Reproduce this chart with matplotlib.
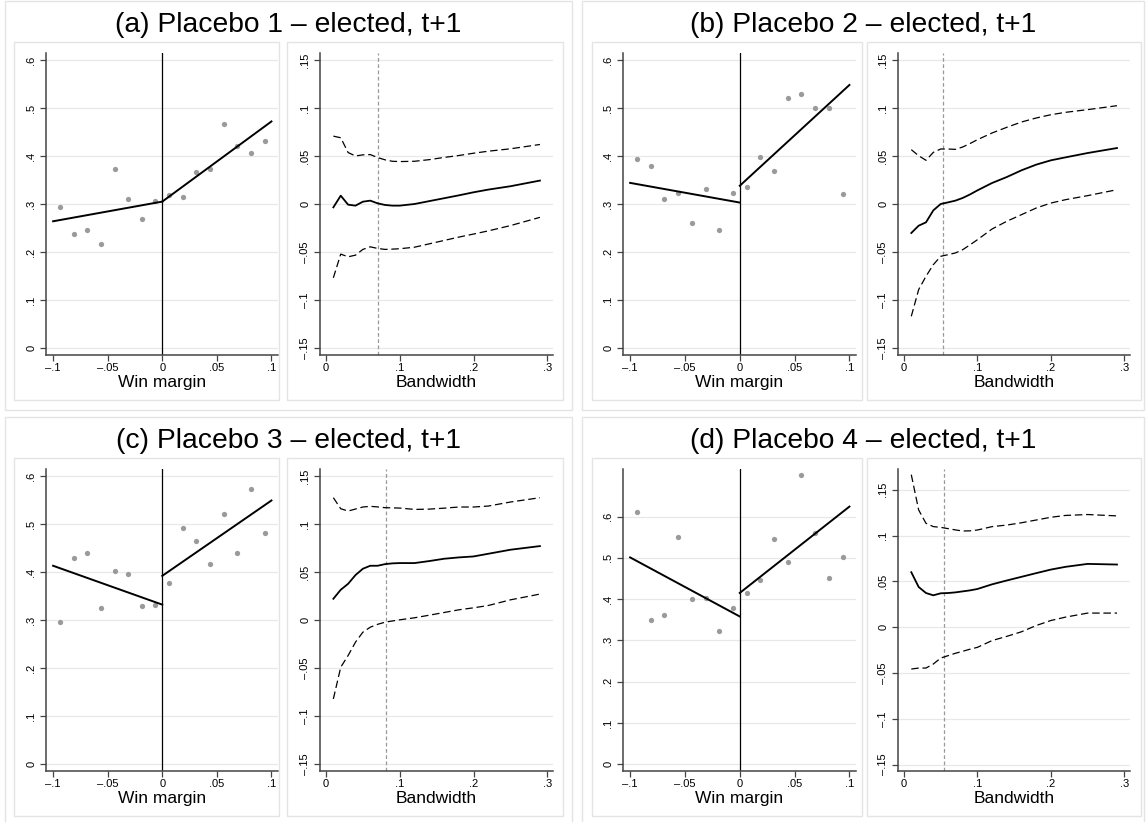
import matplotlib
matplotlib.use('Agg')
import matplotlib.pyplot as plt
from matplotlib.patches import Rectangle

plt.rcParams['font.family'] = ['Liberation Sans', 'DejaVu Sans']

# bin centres of the win margin (bins of width .0125)
bin_x = [-0.09375, -0.08125, -0.06875, -0.05625, -0.04375, -0.03125, -0.01875, -0.00625,
         0.00625, 0.01875, 0.03125, 0.04375, 0.05625, 0.06875, 0.08125, 0.09375]

# binned means of the outcome, one list per placebo
bins_a = [0.294, 0.237, 0.246, 0.217, 0.372, 0.310, 0.269, 0.306,
          0.319, 0.315, 0.366, 0.372, 0.467, 0.420, 0.406, 0.431]
bins_b = [0.393, 0.379, 0.310, 0.322, 0.260, 0.331, 0.245, 0.322,
          0.336, 0.397, 0.368, 0.521, 0.529, 0.500, 0.500, 0.321]
bins_c = [0.296, 0.429, 0.439, 0.326, 0.402, 0.396, 0.330, 0.332,
          0.378, 0.491, 0.465, 0.416, 0.521, 0.439, 0.572, 0.482]
bins_d = [0.611, 0.350, 0.361, 0.550, 0.400, 0.403, 0.322, 0.378,
          0.414, 0.447, 0.545, 0.491, 0.700, 0.560, 0.450, 0.501]

# linear fits either side of the cutoff: value at -.1 / 0 and at 0 / .1
fit_x_left = [-0.1, 0.0]
fit_x_right = [0.0, 0.1]
fit_a = ([0.264, 0.305], [0.305, 0.472])
fit_b = ([0.344, 0.303], [0.338, 0.548])
fit_c = ([0.413, 0.332], [0.392, 0.549])
fit_d = ([0.501, 0.358], [0.415, 0.624])

# RD estimates and 95% CI by bandwidth
bw = [0.01, 0.02, 0.03, 0.04, 0.05, 0.06, 0.07, 0.08, 0.09, 0.10,
      0.12, 0.14, 0.16, 0.18, 0.20, 0.22, 0.25, 0.29]

est_a = [-0.0035, 0.0087, -0.0007, -0.0017, 0.0024, 0.0035, 0.0007, -0.0010, -0.0017, -0.0017,
         0.0000, 0.0030, 0.0060, 0.0090, 0.0122, 0.0150, 0.0185, 0.0244]
hi_a = [0.0707, 0.0690, 0.0536, 0.0500, 0.0512, 0.0515, 0.0484, 0.0460, 0.0445, 0.0442,
        0.0445, 0.0462, 0.0485, 0.0505, 0.0529, 0.0550, 0.0575, 0.0620]
lo_a = [-0.0769, -0.0522, -0.0550, -0.0533, -0.0473, -0.0446, -0.0463, -0.0473, -0.0470, -0.0466,
        -0.0450, -0.0415, -0.0380, -0.0345, -0.0313, -0.0280, -0.0225, -0.0139]

est_b = [-0.0302, -0.0226, -0.0191, -0.0066, 0.0000, 0.0017, 0.0035, 0.0063, 0.0100, 0.0142,
         0.0219, 0.0281, 0.0351, 0.0410, 0.0455, 0.0486, 0.0531, 0.0583]
hi_b = [0.0566, 0.0503, 0.0455, 0.0538, 0.0573, 0.0573, 0.0569, 0.0594, 0.0630, 0.0670,
        0.0740, 0.0799, 0.0854, 0.0896, 0.0930, 0.0955, 0.0983, 0.1024]
lo_b = [-0.1170, -0.0892, -0.0753, -0.0632, -0.0545, -0.0528, -0.0510, -0.0476, -0.0425, -0.0372,
        -0.0260, -0.0180, -0.0111, -0.0042, 0.0010, 0.0045, 0.0087, 0.0149]

est_c = [0.0221, 0.0315, 0.0377, 0.0468, 0.0534, 0.0565, 0.0565, 0.0582, 0.0590, 0.0593,
         0.0593, 0.0614, 0.0638, 0.0652, 0.0662, 0.0690, 0.0732, 0.0770]
hi_c = [0.1274, 0.1159, 0.1135, 0.1156, 0.1177, 0.1184, 0.1178, 0.1170, 0.1168, 0.1166,
        0.1152, 0.1155, 0.1165, 0.1177, 0.1177, 0.1187, 0.1229, 0.1274]
lo_c = [-0.0822, -0.0492, -0.0370, -0.0231, -0.0127, -0.0075, -0.0045, -0.0023, -0.0010, 0.0002,
        0.0023, 0.0050, 0.0078, 0.0106, 0.0127, 0.0151, 0.0210, 0.0270]

est_d = [0.0600, 0.0439, 0.0373, 0.0348, 0.0370, 0.0373, 0.0380, 0.0391, 0.0402, 0.0417,
         0.0468, 0.0510, 0.0550, 0.0590, 0.0629, 0.0659, 0.0691, 0.0684]
hi_d = [0.1665, 0.1280, 0.1134, 0.1098, 0.1090, 0.1076, 0.1062, 0.1050, 0.1052, 0.1061,
        0.1098, 0.1115, 0.1140, 0.1170, 0.1200, 0.1220, 0.1230, 0.1215]
lo_d = [-0.0457, -0.0446, -0.0446, -0.0402, -0.0337, -0.0311, -0.0285, -0.0263, -0.0240, -0.0220,
        -0.0146, -0.0100, -0.0050, 0.0018, 0.0073, 0.0110, 0.0154, 0.0154]

# optimal bandwidths (dashed vertical line)
h_opt = [0.070, 0.0525, 0.081, 0.054]

titles = ['(a) Placebo 1 \u2013 elected, t+1', '(b) Placebo 2 \u2013 elected, t+1',
          '(c) Placebo 3 \u2013 elected, t+1', '(d) Placebo 4 \u2013 elected, t+1']

margin_ticks = [-0.1, -0.05, 0, 0.05, 0.1]
margin_labels = ['\u2013.1', '\u2013.05', '0', '.05', '.1']
share_ticks = [0, 0.1, 0.2, 0.3, 0.4, 0.5, 0.6]
share_labels = ['0', '.1', '.2', '.3', '.4', '.5', '.6']
bw_ticks = [0, 0.1, 0.2, 0.3]
bw_labels = ['0', '.1', '.2', '.3']
est_ticks = [-0.15, -0.1, -0.05, 0, 0.05, 0.1, 0.15]
est_labels = ['\u2013.15', '\u2013.1', '\u2013.05', '0', '.05', '.1', '.15']

W, H = 1147, 822
AXC = '#444444'
GRID = '#e8e8e8'
BOX = '#e4e4e4'

# pixel layout of each column: outer frame, two inner frames, two axes
COLS = [
    dict(outer=(5, 572), box1=(14, 279), box2=(287, 563), ax1=(46, 278), ax2=(320, 553)),
    dict(outer=(582, 1144), box1=(592, 862), box2=(867, 1141), ax1=(623, 856), ax2=(898, 1130)),
]
ROW_DY = [0, 416]

fig = plt.figure(figsize=(W / 100, H / 100), dpi=100)


def px_axes(x0, y0, x1, y1):
    return fig.add_axes([x0 / W, 1 - y1 / H, (x1 - x0) / W, (y1 - y0) / H])


def px_box(x0, y0, x1, y1):
    fig.patches.append(Rectangle((x0 / W, 1 - y1 / H), (x1 - x0) / W, (y1 - y0) / H,
                                 transform=fig.transFigure, fc='none', ec=BOX, lw=1.0, zorder=0))


def style(ax, xt, xl, yt, yl, xlabel):
    for s in ['top', 'right']:
        ax.spines[s].set_visible(False)
    for s in ['left', 'bottom']:
        ax.spines[s].set_color(AXC)
        ax.spines[s].set_linewidth(1.1)
    ax.set_xticks(xt)
    ax.set_xticklabels(xl)
    ax.set_yticks(yt)
    ax.set_yticklabels(yl, rotation=90, va='center')
    ax.tick_params(direction='out', length=4, width=0.9, color=AXC, labelsize=8, pad=3)
    ax.tick_params(axis='x', pad=1.5)
    ax.yaxis.grid(True, color=GRID, lw=0.9)
    ax.set_axisbelow(True)
    ax.set_xlabel(xlabel, fontsize=12.5, labelpad=1.5)


def draw_rd(ax, bins, fit, ylim):
    ax.plot(bin_x, bins, 'o', ms=3.8, color='#9a9a9a', mec='none', zorder=3)
    ax.plot(fit_x_left, fit[0], color='black', lw=1.4, zorder=4)
    ax.plot(fit_x_right, fit[1], color='black', lw=1.4, zorder=4)
    ax.axvline(0, color='black', lw=0.9, zorder=2)
    ax.set_xlim(-0.1065, 0.106)
    ax.set_ylim(*ylim)
    style(ax, margin_ticks, margin_labels, share_ticks, share_labels, 'Win margin')


def draw_bw(ax, est, lo, hi, h, ylim):
    ax.plot(bw, est, color='black', lw=1.3, zorder=4)
    ax.plot(bw, hi, color='black', lw=0.9, dashes=(6, 3), zorder=4)
    ax.plot(bw, lo, color='black', lw=0.9, dashes=(6, 3), zorder=4)
    ax.axvline(h, color='#999999', lw=0.9, dashes=(3, 2), zorder=2)
    ax.set_xlim(-0.0081, 0.3077)
    ax.set_ylim(*ylim)
    style(ax, bw_ticks, bw_labels, est_ticks, est_labels, 'Bandwidth')


panels = [
    (bins_a, fit_a, est_a, lo_a, hi_a),
    (bins_b, fit_b, est_b, lo_b, hi_b),
    (bins_c, fit_c, est_c, lo_c, hi_c),
    (bins_d, fit_d, est_d, lo_d, hi_d),
]
rd_ylims = [(-0.0146, 0.6146)] * 3 + [(-0.016, 0.715)]
bw_ylims = [(-0.1573, 0.1573)] * 3 + [(-0.157, 0.1727)]

for k, (bins, fit, est, lo, hi) in enumerate(panels):
    col = COLS[k % 2]
    dy = ROW_DY[k // 2]
    # outer frame with the title, then one frame round each graph
    px_box(col['outer'][0], 1 + dy, col['outer'][1], 410 + dy)
    px_box(col['box1'][0], 42 + dy, col['box1'][1], 400 + dy)
    px_box(col['box2'][0], 42 + dy, col['box2'][1], 400 + dy)
    xc = (col['outer'][0] + col['outer'][1]) / 2
    fig.text(xc / W, 1 - (25 + dy) / H, titles[k], fontsize=20.3,
             ha='center', va='center')
    ax1 = px_axes(col['ax1'][0], 53 + dy, col['ax1'][1], 355 + dy)
    draw_rd(ax1, bins, fit, rd_ylims[k])
    ax2 = px_axes(col['ax2'][0], 53 + dy, col['ax2'][1], 355 + dy)
    draw_bw(ax2, est, lo, hi, h_opt[k], bw_ylims[k])

fig.savefig('out.png', dpi=100, facecolor='white')
